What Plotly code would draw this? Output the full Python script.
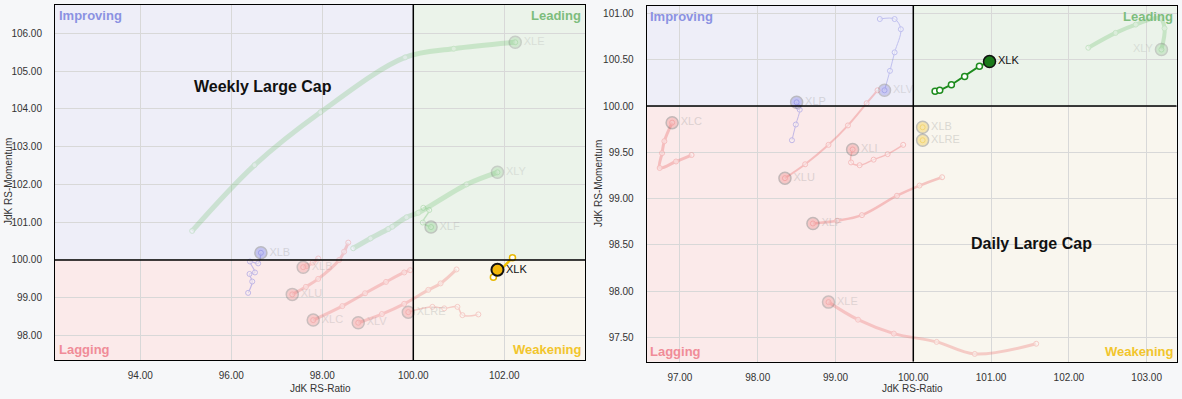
import plotly.graph_objects as go

# ---------------- Weekly (left) data: RS-Ratio / RS-Momentum trails ----------------
wk_xle_ratio = [95.14, 96.51, 97.96, 99.82, 100.89, 102.24]
wk_xle_mom = [100.77, 102.51, 103.91, 105.36, 105.59, 105.76]

wk_xly_ratio = [98.68, 99.06, 99.45, 99.54, 99.85, 100.11, 101.17, 101.85]
wk_xly_mom = [100.31, 100.57, 100.82, 100.88, 101.13, 101.25, 102.00, 102.32]

wk_xlf_ratio = [100.22, 100.35, 100.21, 100.39]
wk_xlf_mom = [101.38, 101.32, 100.99, 100.87]

wk_xlp_ratio = [96.37, 96.46, 96.40, 96.52, 96.41, 96.59, 96.65]
wk_xlp_mom = [99.13, 99.43, 99.63, 99.67, 99.96, 99.91, 100.19]

wk_xlb_ratio = [97.91, 97.79, 97.66, 97.58]
wk_xlb_mom = [100.04, 99.93, 99.84, 99.81]

wk_xlu_ratio = [98.57, 98.48, 98.37, 97.91, 97.64, 97.34]
wk_xlu_mom = [100.46, 100.22, 100.00, 99.50, 99.29, 99.09]

wk_xlc_ratio = [99.93, 99.80, 99.40, 98.94, 98.44, 97.80]
wk_xlc_mom = [99.73, 99.67, 99.42, 99.12, 98.78, 98.41]

wk_xlv_ratio = [100.95, 100.60, 100.33, 99.80, 99.31, 98.79]
wk_xlv_mom = [99.75, 99.38, 99.21, 98.84, 98.57, 98.34]

wk_xlre_ratio = [101.43, 101.08, 100.97, 100.68, 100.42, 99.89]
wk_xlre_mom = [98.56, 98.54, 98.76, 98.72, 98.76, 98.62]

wk_xlk_ratio = [102.18, 101.76, 101.85]
wk_xlk_mom = [100.06, 99.54, 99.74]

# ---------------- Daily (right) data ----------------
dy_xlc_ratio = [97.15, 96.95, 96.74, 96.77, 96.80, 96.90]
dy_xlc_mom = [99.47, 99.40, 99.33, 99.49, 99.62, 99.82]

dy_xlp_ratio = [98.44, 98.49, 98.54, 98.52, 98.50]
dy_xlp_mom = [99.63, 99.80, 99.96, 99.99, 100.04]

dy_xlv_ratio = [99.57, 99.76, 99.84, 99.76, 99.70, 99.63]
dy_xlv_mom = [100.94, 100.94, 100.83, 100.58, 100.38, 100.17]

dy_xlu_ratio = [99.54, 99.40, 99.16, 98.91, 98.61, 98.35]
dy_xlu_mom = [100.17, 100.03, 99.79, 99.58, 99.37, 99.22]

dy_xli_ratio = [99.87, 99.67, 99.49, 99.31, 99.20, 99.22]
dy_xli_mom = [99.58, 99.48, 99.42, 99.36, 99.39, 99.53]

dy_xlf_ratio = [100.37, 100.08, 99.79, 99.34, 99.02, 98.71]
dy_xlf_mom = [99.23, 99.14, 99.03, 98.82, 98.76, 98.73]

dy_xle_ratio = [101.58, 100.79, 100.30, 99.75, 99.29, 98.91]
dy_xle_mom = [97.43, 97.32, 97.45, 97.54, 97.69, 97.88]

dy_xlb_ratio = [100.12]
dy_xlb_mom = [99.77]

dy_xlre_ratio = [100.12]
dy_xlre_mom = [99.63]

dy_xly_ratio = [102.25, 102.60, 102.86, 103.17, 103.23, 103.19]
dy_xly_mom = [100.63, 100.79, 100.88, 100.95, 100.84, 100.61]

dy_xlk_ratio = [100.28, 100.34, 100.49, 100.66, 100.85, 100.98]
dy_xlk_mom = [100.16, 100.17, 100.23, 100.32, 100.43, 100.48]

# tick values
wk_xticks = [94, 96, 98, 100, 102]
wk_yticks = [98, 99, 100, 101, 102, 103, 104, 105, 106]
dy_xticks = [97, 98, 99, 100, 101, 102, 103]
dy_yticks = [97.5, 98.0, 98.5, 99.0, 99.5, 100.0, 100.5, 101.0]

GREEN = "#72c272"
RED = "#ee7c7c"
BLUE = "#6c6ce0"
YELLOW = "#f0c020"

fig = go.Figure()


def add_trail(xa, ya, x, y, name, color, width, opacity, spline=True,
              textpos="middle right", head_size=12):
    fig.add_trace(go.Scatter(
        x=x, y=y, xaxis=xa, yaxis=ya, mode="lines+markers",
        line=dict(color=color, width=width, shape="spline" if spline else "linear", smoothing=1.0),
        marker=dict(size=5, color="rgba(255,255,255,0.5)", line=dict(color=color, width=1)),
        opacity=opacity, hoverinfo="skip", showlegend=False))
    fig.add_trace(go.Scatter(
        x=[x[-1]], y=[y[-1]], xaxis=xa, yaxis=ya, mode="markers+text",
        text=[name], textposition=textpos,
        textfont=dict(color="#9a9a9a", size=11, family="Liberation Sans, Arial"),
        marker=dict(size=head_size, color=color, line=dict(color="#505050", width=1.5)),
        opacity=opacity * 0.8, hoverinfo="skip", showlegend=False))


# Weekly
add_trail("x", "y", wk_xle_ratio, wk_xle_mom, "XLE", GREEN, 5, 0.28)
add_trail("x", "y", wk_xly_ratio, wk_xly_mom, "XLY", GREEN, 5, 0.28)
add_trail("x", "y", wk_xlf_ratio, wk_xlf_mom, "XLF", GREEN, 1.5, 0.35)
add_trail("x", "y", wk_xlp_ratio, wk_xlp_mom, "XLB", BLUE, 1.2, 0.4)
add_trail("x", "y", wk_xlb_ratio, wk_xlb_mom, "XLB", RED, 3, 0.35)
add_trail("x", "y", wk_xlu_ratio, wk_xlu_mom, "XLU", RED, 3, 0.35)
add_trail("x", "y", wk_xlc_ratio, wk_xlc_mom, "XLC", RED, 3, 0.35)
add_trail("x", "y", wk_xlv_ratio, wk_xlv_mom, "XLV", RED, 3, 0.35)
add_trail("x", "y", wk_xlre_ratio, wk_xlre_mom, "XLRE", RED, 1.5, 0.35)

# Weekly XLK highlighted
fig.add_trace(go.Scatter(
    x=wk_xlk_ratio, y=wk_xlk_mom, xaxis="x", yaxis="y", mode="lines+markers",
    line=dict(color="#f2c200", width=2.5),
    marker=dict(size=6, color="white", line=dict(color="#e8b800", width=1.5)),
    hoverinfo="skip", showlegend=False))
fig.add_trace(go.Scatter(
    x=[wk_xlk_ratio[-1]], y=[wk_xlk_mom[-1]], xaxis="x", yaxis="y", mode="markers+text",
    text=["XLK"], textposition="middle right",
    textfont=dict(color="#111111", size=11, family="Liberation Sans, Arial"),
    marker=dict(size=12, color="#f3b80a", line=dict(color="#111111", width=2)),
    hoverinfo="skip", showlegend=False))

# Daily
add_trail("x2", "y2", dy_xlc_ratio, dy_xlc_mom, "XLC", RED, 3, 0.4)
add_trail("x2", "y2", dy_xlp_ratio, dy_xlp_mom, "XLP", BLUE, 1, 0.4)
add_trail("x2", "y2", dy_xlv_ratio, dy_xlv_mom, "XLV", BLUE, 1, 0.35)
add_trail("x2", "y2", dy_xlu_ratio, dy_xlu_mom, "XLU", RED, 2, 0.4)
add_trail("x2", "y2", dy_xli_ratio, dy_xli_mom, "XLI", RED, 1.5, 0.4)
add_trail("x2", "y2", dy_xlf_ratio, dy_xlf_mom, "XLF", RED, 2.5, 0.4)
add_trail("x2", "y2", dy_xle_ratio, dy_xle_mom, "XLE", RED, 3, 0.35)
add_trail("x2", "y2", dy_xlb_ratio, dy_xlb_mom, "XLB", YELLOW, 1, 0.4)
add_trail("x2", "y2", dy_xlre_ratio, dy_xlre_mom, "XLRE", YELLOW, 1, 0.4)
add_trail("x2", "y2", dy_xly_ratio, dy_xly_mom, "XLY", GREEN, 4, 0.3, textpos="middle left")

# Daily XLK highlighted
fig.add_trace(go.Scatter(
    x=dy_xlk_ratio, y=dy_xlk_mom, xaxis="x2", yaxis="y2", mode="lines+markers",
    line=dict(color="#1e8c1e", width=2),
    marker=dict(size=6, color="white", line=dict(color="#1e8c1e", width=1.5)),
    hoverinfo="skip", showlegend=False))
fig.add_trace(go.Scatter(
    x=[dy_xlk_ratio[-1]], y=[dy_xlk_mom[-1]], xaxis="x2", yaxis="y2", mode="markers+text",
    text=["XLK"], textposition="middle right",
    textfont=dict(color="#111111", size=11, family="Liberation Sans, Arial"),
    marker=dict(size=12, color="#1a7a1a", line=dict(color="#111111", width=1.5)),
    hoverinfo="skip", showlegend=False))

# quadrant shading
Q_IMP = "#eeeef8"
Q_LEAD = "#ebf3ea"
Q_LAG = "#fbeaea"
Q_WEAK = "#f9f6ee"
shapes = []
quad_specs = [("x", "y", 92.125, 103.774, 97.354, 106.746),
              ("x2", "y2", 96.573, 103.386, 97.236, 101.081)]
for xa, ya, xl, xr, yb, yt in quad_specs:
    for (x0, x1, y0, y1, c) in ((xl, 100, 100, yt, Q_IMP), (100, xr, 100, yt, Q_LEAD),
                                (xl, 100, yb, 100, Q_LAG), (100, xr, yb, 100, Q_WEAK)):
        shapes.append(dict(type="rect", xref=xa, yref=ya, x0=x0, x1=x1, y0=y0, y1=y1,
                           fillcolor=c, line=dict(width=0), layer="below"))
    shapes.append(dict(type="line", xref=xa, yref=ya, x0=100, x1=100, y0=yb, y1=yt,
                       line=dict(color="black", width=1.5), layer="above"))
    shapes.append(dict(type="line", xref=xa, yref=ya, x0=xl, x1=xr, y0=100, y1=100,
                       line=dict(color="black", width=1.5), layer="above"))

annots = []
qfont = "Liberation Sans, Arial"
for xa, ya in (("x", "y"), ("x2", "y2")):
    xd, yd = xa + " domain", ya + " domain"
    annots += [
        dict(text="<b>Improving</b>", xref=xd, yref=yd, x=0.003, y=0.997, xanchor="left", yanchor="top",
             showarrow=False, font=dict(color="#8b92e2", size=13, family=qfont)),
        dict(text="<b>Leading</b>", xref=xd, yref=yd, x=0.997, y=0.997, xanchor="right", yanchor="top",
             showarrow=False, font=dict(color="#7dbd7d", size=13, family=qfont)),
        dict(text="<b>Lagging</b>", xref=xd, yref=yd, x=0.003, y=0.003, xanchor="left", yanchor="bottom",
             showarrow=False, font=dict(color="#f08c98", size=13, family=qfont)),
        dict(text="<b>Weakening</b>", xref=xd, yref=yd, x=0.997, y=0.003, xanchor="right", yanchor="bottom",
             showarrow=False, font=dict(color="#f2c52c", size=13, family=qfont)),
    ]

W, H = 1182, 399
annots += [
    dict(text="<b>Weekly Large Cap</b>", xref="paper", yref="paper", x=263 / W, y=1 - 86 / H,
         xanchor="center", yanchor="middle",
         showarrow=False, font=dict(size=16, color="#111111", family=qfont)),
    dict(text="<b>Daily Large Cap</b>", xref="paper", yref="paper", x=1031 / W, y=1 - 243 / H,
         xanchor="center", yanchor="middle",
         showarrow=False, font=dict(size=16, color="#111111", family=qfont)),
    dict(text="JdK RS-Ratio", xref="paper", yref="paper", x=320 / W, y=1 - 388 / H,
         xanchor="center", yanchor="middle",
         showarrow=False, font=dict(size=10, color="#333333", family=qfont)),
    dict(text="JdK RS-Ratio", xref="paper", yref="paper", x=912 / W, y=1 - 388 / H,
         xanchor="center", yanchor="middle",
         showarrow=False, font=dict(size=10, color="#333333", family=qfont)),
    dict(text="JdK RS-Momentum", xref="paper", yref="paper", x=8 / W, y=1 - 182 / H, textangle=-90,
         xanchor="center", yanchor="middle",
         showarrow=False, font=dict(size=10, color="#333333", family=qfont)),
    dict(text="JdK RS-Momentum", xref="paper", yref="paper", x=598 / W, y=1 - 184 / H, textangle=-90,
         xanchor="center", yanchor="middle",
         showarrow=False, font=dict(size=10, color="#333333", family=qfont)),
]

axis_common = dict(showgrid=True, gridcolor="#d8d8d8", gridwidth=1, zeroline=False,
                   showline=True, mirror=True, linecolor="black", linewidth=1,
                   tickformat=".2f", ticks="", tickfont=dict(size=10, color="#333333", family=qfont))

fig.update_layout(
    width=W, height=H, margin=dict(l=0, r=0, t=0, b=0),
    paper_bgcolor="#f6f7f9", plot_bgcolor="#f6f7f9",
    xaxis=dict(domain=[55 / W, 585 / W], range=[92.125, 103.774], tickvals=wk_xticks,
               anchor="y", ticklabelstandoff=6, **axis_common),
    yaxis=dict(domain=[1 - 360 / H, 1 - 5 / H], range=[97.354, 106.746], tickvals=wk_yticks,
               anchor="x", ticklabelstandoff=10, **axis_common),
    xaxis2=dict(domain=[646.7 / W, 1176.7 / W], range=[96.573, 103.386], tickvals=dy_xticks,
                anchor="y2", ticklabelstandoff=6, **axis_common),
    yaxis2=dict(domain=[1 - 361.7 / H, 1 - 6 / H], range=[97.236, 101.081], tickvals=dy_yticks,
                anchor="x2", ticklabelstandoff=10, **axis_common),
    shapes=shapes, annotations=annots,
)

fig.write_html(
    "out.html",
    config={"displayModeBar": False},
    post_script="document.body.style.margin='0';document.body.style.padding='0';"
                "document.body.style.overflow='hidden';document.body.style.background='#f6f7f9';",
)
